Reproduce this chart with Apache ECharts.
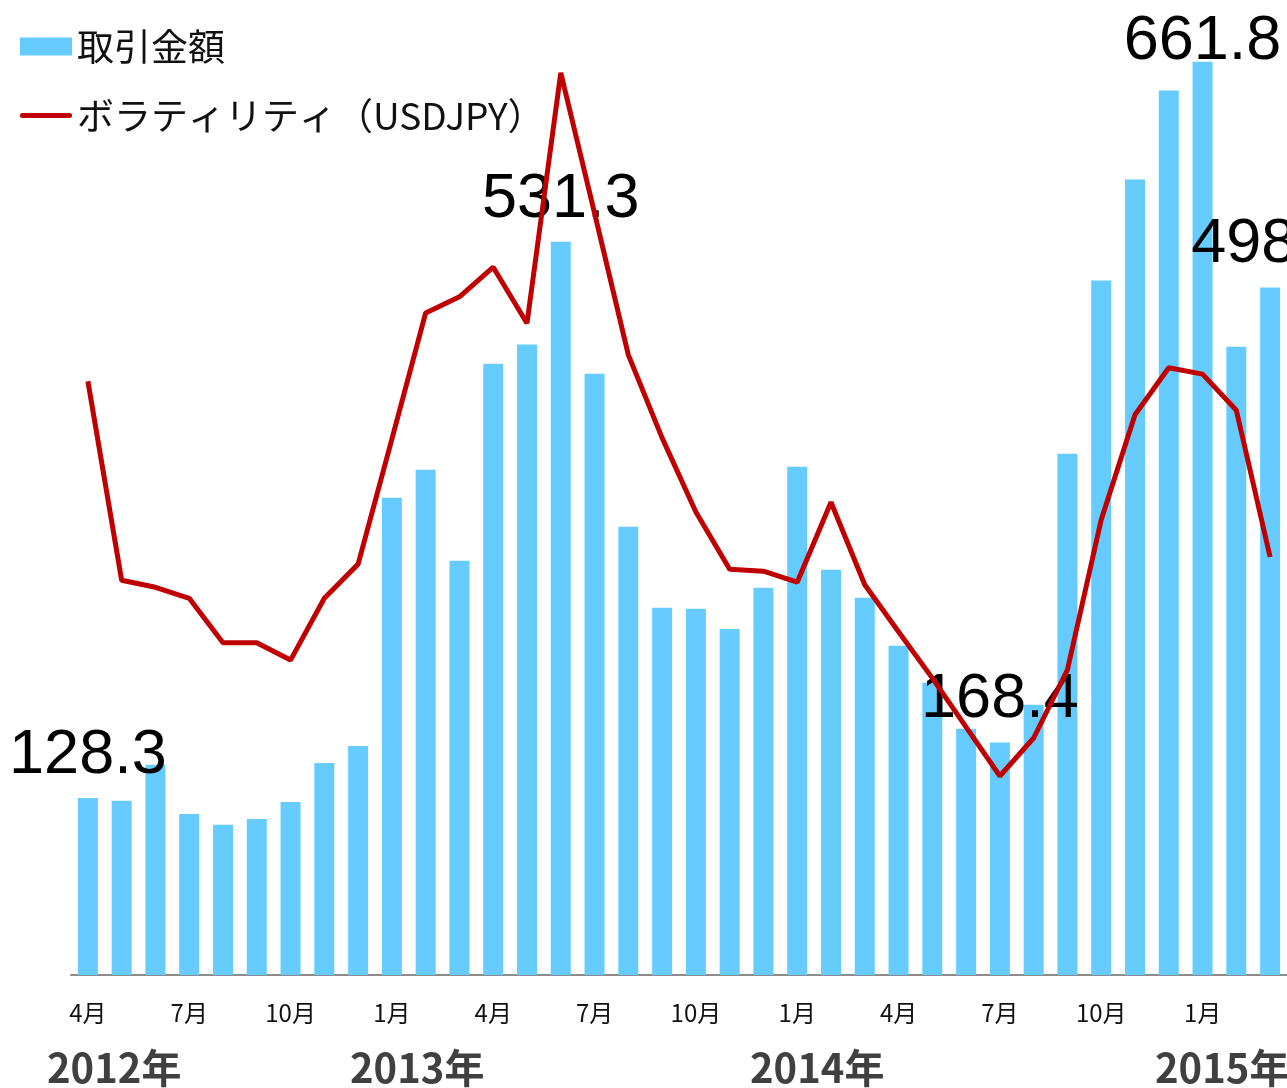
<!DOCTYPE html>
<html>
<head>
<meta charset="utf-8">
<title>取引金額とボラティリティ</title>
<script src="https://cdn.jsdelivr.net/npm/echarts@6/dist/echarts.min.js"></script>
<style>
  html, body { margin: 0; padding: 0; background: #fff; }
  #chart { width: 1287px; height: 1088px; }
</style>
</head>
<body>
<div id="chart"></div>
<script>
// 2012年4月 ～ 2015年3月
var months = [
    '4月','5月','6月','7月','8月','9月','10月','11月','12月',
    '1月','2月','3月','4月','5月','6月','7月','8月','9月','10月','11月','12月',
    '1月','2月','3月','4月','5月','6月','7月','8月','9月','10月','11月','12月',
    '1月','2月','3月'
];

// 取引金額
var amounts = [
    128.3, 126.2, 152.3, 116.7, 108.8, 113.1, 125.4, 153.7, 166.0,
    345.8, 366.1, 300.2, 443.0, 456.8, 531.3, 435.7, 324.8, 266.1, 265.4, 250.8, 280.6,
    368.3, 293.6, 273.3, 238.5, 211.7, 178.4, 168.4, 195.8, 377.7, 503.2, 576.4, 641.0,
    661.8, 455.3, 498.1
];

// ボラティリティ（USDJPY）
var volatility = [
    9.22, 6.13, 6.02, 5.85, 5.16, 5.16, 4.89, 5.85, 6.38,
    8.32, 10.28, 10.53, 10.99, 10.12, 14.01, 11.83, 9.63, 8.34, 7.19, 6.30, 6.27,
    6.10, 7.34, 6.06, 5.33, 4.61, 3.85, 3.09, 3.68, 4.74, 7.07, 8.70, 9.43,
    9.33, 8.77, 6.49
];

// 値ラベルを付ける月
var labeledIdx = [0, 14, 27, 33, 35];
var years = ['2012年', '2013年', '2014年', '2015年'];
var yearLeft = [47, 350, 750, 1155];

var jpFont = '"Noto Sans CJK JP", "Noto Sans", sans-serif';
var lineColor = '#c00000';

var barData = amounts.map(function (v, i) {
    var item = { value: v };
    if (labeledIdx.indexOf(i) >= 0) {
        item.label = { show: true };
        // top label is pushed down to stay inside the chart
        if (v === Math.max.apply(null, amounts)) {
            item.label.offset = [0, 22];
        }
    }
    return item;
});

var chart = echarts.init(document.getElementById('chart'));

chart.setOption({
    backgroundColor: '#fff',
    animation: false,
    legend: {
        orient: 'vertical',
        left: 20,
        top: 28,
        padding: 0,
        itemGap: 32,
        itemWidth: 52,
        itemHeight: 18,
        textStyle: {
            fontFamily: jpFont,
            fontSize: 37,
            color: '#111'
        },
        data: [
            { name: '取引金額', icon: 'rect' },
            {
                name: 'ボラティリティ（USDJPY）',
                icon: 'path://M2.5,0 L49.5,0 A2.5,2.5 0 0 1 49.5,5 L2.5,5 A2.5,2.5 0 0 1 2.5,0 Z',
                itemStyle: { color: lineColor }
            }
        ]
    },
    grid: {
        left: 71,
        width: 1220,
        top: 9,
        bottom: 113,
        containLabel: false
    },
    xAxis: {
        type: 'category',
        data: months,
        boundaryGap: true,
        axisLine: { lineStyle: { color: '#8c8c8c', width: 2 } },
        axisTick: { show: false },
        axisLabel: {
            interval: 2,
            margin: 26,
            fontFamily: jpFont,
            fontSize: 24,
            color: '#111'
        }
    },
    yAxis: [
        { type: 'value', min: 0, max: 700, show: false },
        { type: 'value', min: 0, max: 15, show: false }
    ],
    series: [
        {
            name: '取引金額',
            type: 'bar',
            barWidth: 20,
            z: 2,
            itemStyle: { color: '#66ccff' },
            label: {
                show: false,
                position: 'top',
                distance: 11,
                fontFamily: '"Liberation Sans", Arial, sans-serif',
                fontSize: 63,
                color: '#000',
                formatter: function (p) { return p.value.toFixed(1); }
            },
            data: barData
        },
        {
            name: 'ボラティリティ（USDJPY）',
            type: 'line',
            yAxisIndex: 1,
            z: 5,
            symbol: 'none',
            showSymbol: false,
            lineStyle: { color: lineColor, width: 5 },
            itemStyle: { color: lineColor },
            data: volatility
        }
    ],
    graphic: years.map(function (y, i) {
        return {
            type: 'text',
            left: yearLeft[i],
            top: 1048,
            style: {
                text: y,
                fontFamily: jpFont,
                fontWeight: 'bold',
                fontSize: 40,
                fill: '#404040'
            }
        };
    })
});
</script>
</body>
</html>
